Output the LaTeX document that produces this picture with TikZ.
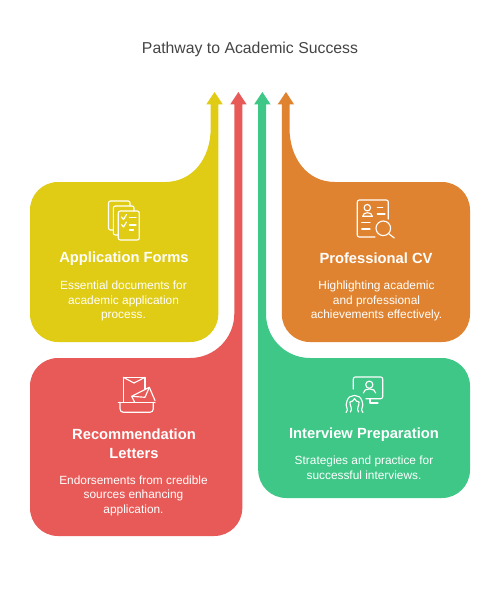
\documentclass[tikz,border=0pt]{standalone}
\usepackage{fontspec}
\setmainfont{Liberation Sans}
\definecolor{cyellow}{HTML}{E0CC14}
\definecolor{cred}{HTML}{E85A57}
\definecolor{cgreen}{HTML}{3EC787}
\definecolor{corange}{HTML}{E08330}
\definecolor{ctitle}{HTML}{444444}
\tikzset{
  band/.style={line width=0pt},
  icon/.style={draw=white,line width=0.85pt,line cap=round,line join=round,fill=none},
  ttl/.style={text=ctitle,font=\fontsize{11.85pt}{13pt}\selectfont,inner sep=0pt},
  head/.style={text=white,font=\fontsize{11.05pt}{14.2pt}\selectfont\bfseries,align=center,inner sep=0pt},
  body/.style={text=white,font=\fontsize{8.9pt}{10.9pt}\selectfont,align=center,inner sep=0pt}
}
\begin{document}
\begin{tikzpicture}[x=0.75pt,y=-0.75pt]
\useasboundingbox (0,0) rectangle (500,600);
% yellow
\fill[cyellow,band] (58,182) -- (165,182) .. controls (193,182) and (210.7,158) .. (210.7,128) -- (210.7,104.3) -- (206.3,104.3) -- (214.5,92) -- (222.7,104.3) -- (218.3,104.3) -- (218.3,314) .. controls (218.3,329.5) and (205.8,342) .. (190.3,342) -- (58,342) .. controls (42.5,342) and (30,329.5) .. (30,314) -- (30,210) .. controls (30,194.5) and (42.5,182) .. (58,182) -- cycle;
% red
\fill[cred,band] (58,358) -- (190,358) .. controls (214.5,358) and (234.3,338.2) .. (234.3,313.7) -- (234.3,104.3) -- (230.3,104.3) -- (238.4,92) -- (246.6,104.3) -- (242.3,104.3) -- (242.3,508) .. controls (242.3,523.5) and (229.8,536) .. (214.3,536) -- (58,536) .. controls (42.5,536) and (30,523.5) .. (30,508) -- (30,386) .. controls (30,370.5) and (42.5,358) .. (58,358) -- cycle;
% green
\fill[cgreen,band] (442,358) -- (310,358) .. controls (285.7,358) and (266,338.3) .. (266,314) -- (266,104.3) -- (270.6,104.3) -- (262.4,92) -- (254.2,104.3) -- (258.2,104.3) -- (258.2,470) .. controls (258.2,485.5) and (270.7,498) .. (286.2,498) -- (442,498) .. controls (457.5,498) and (470,485.5) .. (470,470) -- (470,386) .. controls (470,370.5) and (457.5,358) .. (442,358) -- cycle;
% orange
\fill[corange,band] (442,182) -- (335,182) .. controls (307,182) and (289.5,158) .. (289.5,128) -- (289.5,104.3) -- (294,104.3) -- (286,92) -- (277.7,104.3) -- (281.8,104.3) -- (281.8,314) .. controls (281.8,329.5) and (294.3,342) .. (309.8,342) -- (442,342) .. controls (457.5,342) and (470,329.5) .. (470,314) -- (470,210) .. controls (470,194.5) and (457.5,182) .. (442,182) -- cycle;
% icon: forms
\draw[icon,rounded corners=1.5pt] (113.4,230) -- (108.5,230) -- (108.5,201) -- (130,201) -- (130,206);
\draw[icon,rounded corners=1.5pt] (118.3,235) -- (113.4,235) -- (113.4,206) -- (134,206) -- (134,211);
\draw[icon,rounded corners=1.5pt] (118.3,211) rectangle (139.3,240);
\draw[icon] (121.5,217) -- (123.5,219.5) -- (126.5,214.5);
\draw[icon] (121.5,224.5) -- (123.5,227) -- (126.5,222);
\draw[icon] (129.5,217.3) -- (136,217.3);
\draw[icon] (129.5,225) -- (136,225);
\draw[icon] (129.5,230) -- (133.5,230);
% icon: cv
\draw[icon,rounded corners=1.5pt] (388.3,219) -- (388.3,200) -- (357.3,200) -- (357.3,237) -- (375,237);
\draw[icon] (367.3,207.7) circle[radius=3.2];
\draw[icon] (362.7,216.3) .. controls (362.7,211.5) and (372.3,211.5) .. (372.3,216.3) -- cycle;
\draw[icon] (377.3,207.3) -- (382.7,207.3);
\draw[icon] (377.3,214) -- (385,214);
\draw[icon] (361.7,222.3) -- (370,222.3);
\draw[icon] (361.7,229) -- (370,229);
\draw[icon] (383.3,228.3) circle[radius=7.3];
\draw[icon] (388.6,233.6) -- (394.3,238);
% icon: envelopes
\draw[icon] (123.3,402) -- (123.3,377.3) -- (145,377.3) -- (145,389.5);
\draw[icon] (123.3,377.3) -- (134,383) -- (145,377.3);
\draw[icon] (134.5,402) -- (131.7,396.3) -- (149.3,387.3) -- (155,400.5);
\draw[icon] (131.7,396.3) -- (145,397.3) -- (149.3,387.3);
\draw[icon] (118.3,402.3) -- (155,402.3);
\draw[icon,rounded corners=2.5pt] (120,402.3) -- (120,412.3) -- (153.3,412.3) -- (153.3,402.3);
% icon: interview
\draw[icon,rounded corners=1.5pt] (353.3,389) -- (353.3,377) -- (382.7,377) -- (382.7,398.7) -- (366,398.7);
\draw[icon] (369.3,384.7) circle[radius=3.6];
\draw[icon] (363.3,393) .. controls (363.5,387.5) and (375.5,387.5) .. (375.7,393);
\draw[icon] (370,398.7) -- (370,403) -- (378,403);
\draw[icon] (346,412.5) .. controls (350,409) and (344,407) .. (347,401) .. controls (349,393.5) and (360,393.5) .. (362,401) .. controls (365,407) and (359,409) .. (363,412.5);
\draw[icon] (350.5,412) .. controls (353,408) and (349.5,406) .. (350,402) .. controls (352,402) and (353.5,400.5) .. (354.5,398.5) .. controls (355.5,400.5) and (357,402) .. (359,402) .. controls (359.5,406) and (356,408) .. (358.5,412);
% texts
\node[ttl] (title) at (250,49.5) {Pathway to Academic Success};
\node[head] (h1) at (124,258.5) {Application Forms};
\node[body] (b1) at (123.5,301) {Essential documents for\\academic application\\process.};
\node[head] (h2) at (376,258.5) {Professional CV};
\node[body] (b2) at (376.5,301) {Highlighting academic\\and professional\\achievements effectively.};
\node[head] (h3) at (134,444) {Recommendation\\Letters};
\node[body] (b3) at (133.5,495.5) {Endorsements from credible\\sources enhancing\\application.};
\node[head] (h4) at (364,434.5) {Interview Preparation};
\node[body] (b4) at (364,467.5) {Strategies and practice for\\successful interviews.};
\end{tikzpicture}
\end{document}
